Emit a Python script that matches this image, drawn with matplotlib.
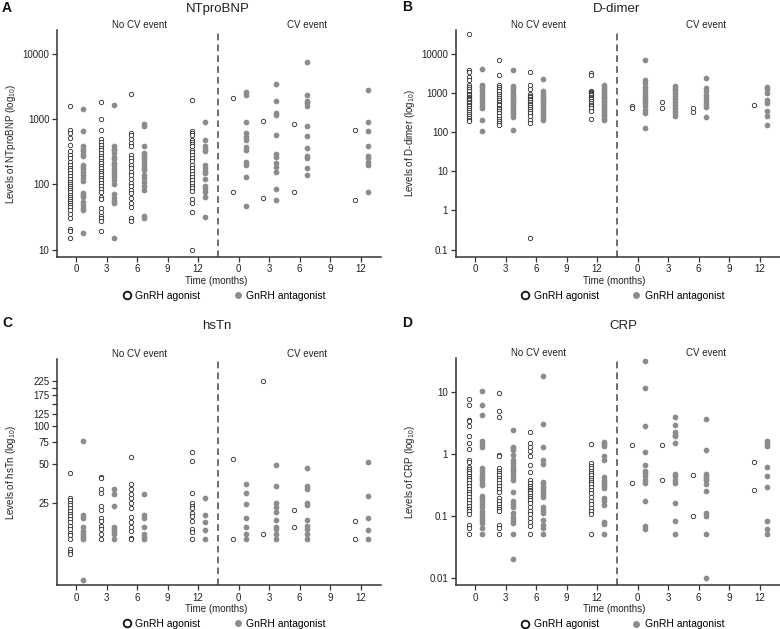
from matplotlib import pyplot as plt
from matplotlib.lines import Line2D
from matplotlib.ticker import NullLocator, FixedLocator
import numpy as np

plt.rcParams['font.family'] = ['Liberation Sans', 'DejaVu Sans']
plt.rcParams['mathtext.default'] = 'regular'

MONTHS = [0, 3, 6, 12]
TICK_LABELS = ['0', '3', '6', '9', '12']

# ---- NTproBNP ----
nt_ago_nocv = {
    0: [1600, 670, 600, 510, 400, 320, 280, 250, 220, 200, 180, 165, 150, 135, 120, 110, 100, 95, 88, 82, 75, 69, 64, 60, 56, 52, 48, 45, 40, 35, 30, 21, 19, 15],
    3: [1800, 1000, 670, 500, 450, 400, 360, 330, 300, 275, 250, 230, 210, 190, 175, 160, 150, 140, 125, 115, 105, 95, 85, 75, 65, 60, 43, 38, 33, 30, 27, 19],
    6: [2400, 600, 560, 500, 430, 380, 280, 250, 225, 200, 180, 155, 140, 120, 105, 95, 82, 73, 62, 52, 45, 30, 27],
    12: [1950, 650, 610, 570, 480, 450, 420, 390, 340, 310, 280, 250, 225, 200, 180, 160, 145, 130, 115, 105, 95, 88, 80, 60, 52, 38, 10],
}
nt_ant_nocv = {
    0: [1440, 650, 380, 350, 320, 290, 270, 200, 185, 170, 155, 140, 125, 112, 73, 68, 65, 53, 48, 44, 40, 18],
    3: [1660, 380, 350, 330, 300, 265, 240, 215, 195, 175, 160, 145, 130, 115, 100, 70, 62, 56, 52, 15],
    6: [840, 790, 380, 300, 280, 260, 240, 220, 200, 180, 165, 140, 125, 110, 95, 82, 33, 30],
    12: [890, 470, 380, 350, 320, 200, 180, 160, 150, 120, 95, 85, 75, 65, 32],
}
nt_ago_cv = {0: [2120, 75], 3: [920, 61], 6: [840, 77], 12: [690, 58]}
nt_ant_cv = {
    0: [2620, 2330, 890, 600, 535, 475, 378, 336, 217, 198, 131, 47],
    3: [3390, 1900, 1220, 1150, 570, 291, 265, 209, 186, 156, 84, 58],
    6: [7360, 2300, 1900, 1750, 1600, 780, 540, 360, 270, 250, 180, 140],
    12: [2800, 900, 650, 390, 270, 250, 220, 200, 76],
}

# ---- D-dimer ----
dd_ago_nocv = {
    0: [31000, 3900, 3400, 2500, 2100, 1600, 1400, 1250, 1100, 950, 870, 800, 750, 700, 650, 600, 550, 500, 450, 400, 360, 320, 290, 260, 230, 200, 190],
    3: [6800, 2900, 1550, 1400, 1250, 1100, 950, 850, 750, 650, 600, 530, 480, 420, 380, 340, 300, 260, 220, 190, 165, 150],
    6: [3300, 1550, 1250, 950, 830, 760, 700, 640, 580, 530, 480, 430, 390, 350, 300, 250, 200, 170, 0.2],
    12: [3200, 2800, 1100, 1050, 1000, 950, 880, 800, 750, 700, 620, 560, 500, 450, 400, 350, 210],
}
dd_ant_nocv = {
    0: [4100, 1600, 1400, 1200, 1050, 900, 780, 650, 550, 470, 400, 200, 105],
    3: [3900, 1450, 1300, 1150, 1000, 900, 800, 700, 620, 550, 480, 420, 370, 320, 280, 240, 110],
    6: [2200, 1100, 950, 850, 750, 650, 580, 520, 460, 400, 350, 300, 260, 230, 200],
    12: [1550, 1400, 1250, 1100, 1000, 900, 800, 720, 650, 580, 520, 460, 410, 360, 320, 280, 250, 220, 200],
}
dd_ago_cv = {0: [470, 400], 3: [600, 420], 6: [420, 320], 12: [480]}
dd_ant_cv = {
    0: [6700, 2100, 1750, 1400, 1200, 1000, 850, 750, 650, 550, 450, 370, 300, 130],
    3: [1450, 1300, 1150, 1000, 850, 700, 600, 500, 420, 350, 300, 260],
    6: [2400, 1300, 1100, 900, 750, 630, 520, 440, 240],
    12: [1400, 1250, 1000, 650, 550, 340, 250, 150],
}

# ---- hsTn ----
tn_ago_nocv = {
    0: [43, 27, 26, 25, 24, 22.5, 21.5, 20.5, 19.5, 18.5, 17.5, 16.5, 15.5, 14.5, 14, 13, 10.8, 10.3, 9.8],
    3: [40, 39, 32, 30, 23.5, 22, 19, 18, 16.5, 15.5, 14.2, 13],
    6: [57, 35, 32, 29.5, 27, 25, 22.5, 19.3, 17.5, 16, 15, 13.2, 13],
    12: [62, 53, 30, 25, 23.5, 22.5, 20.7, 19.5, 18, 15.5, 14.6, 13],
}
tn_ant_nocv = {
    0: [76, 20, 19, 16, 15, 14.5, 14, 13.5, 13, 6.2],
    3: [32, 29, 23.5, 16.2, 15.6, 15, 14.3, 13],
    6: [29, 20, 19, 16.2, 14.3, 13.5, 13],
    12: [27, 20, 17.5, 15.3, 13],
}
tn_ago_cv = {0: [55, 13], 3: [227, 14.2], 6: [22, 16.2], 12: [18, 13]}
tn_ant_cv = {
    0: [35, 30, 24.3, 19, 16.2, 14.1, 13],
    3: [49, 34, 25, 23.3, 21.2, 18.3, 16.2, 15.4, 14.2, 13],
    6: [47, 33.5, 32, 25, 24, 18.3, 16.3, 15.4, 14.2, 13],
    12: [52, 28, 19, 15.3, 13],
}

# ---- CRP ----
crp_ago_nocv = {
    0: [7.6, 6.2, 3.5, 3.3, 2.8, 1.9, 1.5, 1.2, 0.79, 0.72, 0.62, 0.57, 0.52, 0.48, 0.44, 0.41, 0.38, 0.34, 0.3, 0.27, 0.24, 0.22, 0.2, 0.18, 0.16, 0.145, 0.13, 0.12, 0.105, 0.07, 0.062, 0.05],
    3: [9.4, 4.9, 3.9, 0.95, 0.9, 0.58, 0.53, 0.49, 0.45, 0.41, 0.37, 0.33, 0.3, 0.27, 0.24, 0.19, 0.17, 0.155, 0.14, 0.13, 0.12, 0.07, 0.062, 0.05],
    6: [2.25, 1.5, 1.3, 1.1, 0.9, 0.66, 0.5, 0.37, 0.33, 0.3, 0.28, 0.26, 0.25, 0.23, 0.21, 0.19, 0.18, 0.16, 0.14, 0.12, 0.105, 0.09, 0.08, 0.068, 0.05],
    12: [1.43, 0.7, 0.63, 0.58, 0.53, 0.49, 0.45, 0.41, 0.38, 0.35, 0.32, 0.29, 0.26, 0.23, 0.2, 0.175, 0.155, 0.135, 0.12, 0.105, 0.05],
}
crp_ant_nocv = {
    0: [10.4, 6.1, 4.2, 1.6, 1.45, 1.3, 0.58, 0.52, 0.47, 0.43, 0.4, 0.37, 0.34, 0.31, 0.21, 0.19, 0.17, 0.155, 0.14, 0.12, 0.105, 0.095, 0.085, 0.075, 0.062, 0.05],
    3: [2.4, 1.3, 1.22, 1.15, 0.95, 0.79, 0.7, 0.63, 0.57, 0.52, 0.47, 0.42, 0.37, 0.24, 0.17, 0.155, 0.14, 0.11, 0.095, 0.085, 0.075, 0.05, 0.02],
    6: [18, 3.0, 1.3, 0.8, 0.67, 0.35, 0.32, 0.29, 0.27, 0.25, 0.22, 0.2, 0.14, 0.125, 0.11, 0.085, 0.07, 0.062, 0.05],
    12: [1.55, 1.45, 1.35, 0.9, 0.8, 0.42, 0.38, 0.35, 0.32, 0.3, 0.28, 0.19, 0.17, 0.15, 0.08, 0.072, 0.05],
}
crp_ago_cv = {0: [1.38, 0.34], 3: [1.4, 0.37], 6: [0.45, 0.1], 12: [0.73, 0.26]}
crp_ant_cv = {
    0: [31.6, 11.6, 2.75, 1.07, 0.66, 0.53, 0.48, 0.43, 0.38, 0.34, 0.17, 0.068, 0.06],
    3: [3.9, 2.9, 2.2, 2.0, 1.9, 1.5, 0.47, 0.44, 0.38, 0.34, 0.16, 0.083, 0.05],
    6: [3.6, 1.13, 0.47, 0.44, 0.4, 0.37, 0.32, 0.25, 0.11, 0.1, 0.05, 0.01],
    12: [1.6, 1.47, 1.35, 0.62, 0.44, 0.29, 0.083, 0.06, 0.05],
}

AGO_EDGE = '#2b2b2b'
ANT_COLOR = '#8c8c8c'
AXIS_COLOR = '#333333'
CV_SHIFT = 16


def draw_panel(ax, ago_nocv, ant_nocv, ago_cv, ant_cv, ylim, yticks, ylabels, ylabel):
    for shift, ago, ant in [(0, ago_nocv, ant_nocv), (CV_SHIFT, ago_cv, ant_cv)]:
        for m in MONTHS:
            ya = ago[m]
            yb = ant[m]
            ax.scatter(np.full(len(ya), shift + m - 0.6), ya, s=10, facecolor='white',
                       edgecolor=AGO_EDGE, linewidth=0.6, zorder=3, clip_on=False)
            ax.scatter(np.full(len(yb), shift + m + 0.7), yb, s=17, color=ANT_COLOR,
                       linewidth=0, zorder=3, clip_on=False)

    ax.set_yscale('log')
    ax.set_ylim(*ylim)
    ax.yaxis.set_major_locator(FixedLocator(yticks))
    ax.set_yticklabels(ylabels)
    ax.yaxis.set_minor_locator(NullLocator())

    ax.set_xlim(-1.9, 30)
    xt = [0, 3, 6, 9, 12] + [CV_SHIFT + t for t in [0, 3, 6, 9, 12]]
    ax.set_xticks(xt)
    ax.set_xticklabels(TICK_LABELS * 2)

    ax.axvline(14, color='#555555', ls=(0, (4, 2.5)), lw=1.2, zorder=1)

    for s in ['top', 'right']:
        ax.spines[s].set_visible(False)
    for s in ['left', 'bottom']:
        ax.spines[s].set_color(AXIS_COLOR)
        ax.spines[s].set_linewidth(1.1)
    ax.tick_params(axis='both', colors=AXIS_COLOR, labelcolor='#222222', labelsize=7,
                   length=3.5, width=0.9, pad=2)

    ax.set_ylabel(ylabel, fontsize=7, color='#222222')
    ax.yaxis.set_label_coords(-0.12, 0.5)
    ax.set_xlabel('Time (months)', fontsize=7, color='#222222')
    ax.xaxis.set_label_coords(0.49, -0.083)

    trans = ax.get_xaxis_transform()
    ax.text(6.2, 1.022, 'No CV event', transform=trans, ha='center', va='center', fontsize=7, color='#222222')
    ax.text(22.7, 1.022, 'CV event', transform=trans, ha='center', va='center', fontsize=7, color='#222222')

    handles = [
        Line2D([], [], ls='none', marker='o', markersize=5.5, markerfacecolor='white',
               markeredgecolor='#111111', markeredgewidth=1.3, label='GnRH agonist'),
        Line2D([], [], ls='none', marker='o', markersize=5, markerfacecolor=ANT_COLOR,
               markeredgewidth=0, label='GnRH antagonist'),
    ]
    ax.legend(handles=handles, loc='center', bbox_to_anchor=(0.515, -0.173), ncol=2,
              frameon=False, fontsize=7.5, handlelength=0.8, handletextpad=0.4,
              columnspacing=3.2, borderaxespad=0)


W, H = 780, 629
fig = plt.figure(figsize=(7.8, 6.29), dpi=100)


def px_axes(left, top, right, bottom):
    return fig.add_axes([left / W, 1 - bottom / H, (right - left) / W, (bottom - top) / H])


axA = px_axes(57, 30, 381, 256.7)
axB = px_axes(455.7, 30, 780, 256.7)
axC = px_axes(57, 359, 381, 585)
axD = px_axes(455.7, 358.3, 780, 585)

draw_panel(axA, nt_ago_nocv, nt_ant_nocv, nt_ago_cv, nt_ant_cv, (7.8, 23000),
           [10, 100, 1000, 10000], ['10', '100', '1000', '10000'], 'Levels of NTproBNP (log$_{10}$)')
draw_panel(axB, dd_ago_nocv, dd_ant_nocv, dd_ago_cv, dd_ant_cv, (0.066, 40000),
           [0.1, 1, 10, 100, 1000, 10000], ['0.1', '1', '10', '100', '1000', '10000'],
           'Levels of D-dimer (log$_{10}$)')
draw_panel(axC, tn_ago_nocv, tn_ant_nocv, tn_ago_cv, tn_ant_cv, (5.64, 336),
           [25, 50, 75, 100, 125, 150, 175, 200, 225],
           ['25', '50', '75', '100', '125', '', '175', '', '225'], 'Levels of hsTn (log$_{10}$)')
draw_panel(axD, crp_ago_nocv, crp_ant_nocv, crp_ago_cv, crp_ant_cv, (0.0076, 34.5),
           [0.01, 0.1, 1, 10], ['0.01', '0.1', '1', '10'], 'Levels of CRP (log$_{10}$)')

# titles and panel letters
for txt, x, y in [('NTproBNP', 218, 9), ('D-dimer', 617, 9), ('hsTn', 217, 326), ('CRP', 623, 326)]:
    fig.text(x / W, 1 - y / H, txt, ha='center', va='center', fontsize=9.5, color='#222222')
for txt, x, y in [('A', 2, 8), ('B', 402, 7), ('C', 2, 323), ('D', 402, 323)]:
    fig.text(x / W, 1 - y / H, txt, ha='left', va='center', fontsize=10, fontweight='bold', color='#111111')

fig.savefig('out.png', dpi=100)
